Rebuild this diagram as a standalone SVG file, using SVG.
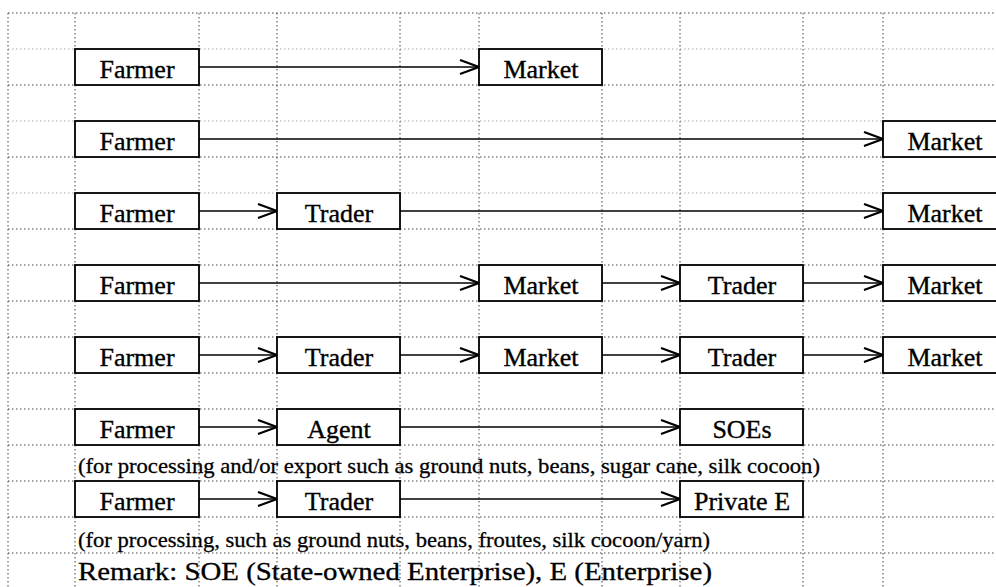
<svg xmlns="http://www.w3.org/2000/svg" width="996" height="587" viewBox="0 0 996 587">
<style>
.grid line{stroke:#444;stroke-width:1;stroke-dasharray:1.5 2.5}
.grid line.faint{stroke:#aaa}
.box rect{fill:#fff;stroke:#000;stroke-width:1.8}
.box text{font-family:"Liberation Serif","Times New Roman",serif;font-size:26px;fill:#000;stroke:#000;stroke-width:0.35;text-anchor:middle}
.conn line{stroke:#000;stroke-width:1.7}
.note{font-family:"Liberation Serif","Times New Roman",serif;fill:#000;stroke:#000;stroke-width:0.3}
</style>
<defs>
<marker id="arr" markerUnits="userSpaceOnUse" markerWidth="24" markerHeight="18" refX="20" refY="8" orient="auto">
<path d="M1,1 L20,8 L1,15" fill="none" stroke="#000" stroke-width="2.2"/>
</marker>
</defs>
<rect width="996" height="587" fill="#fff"/>
<g class="grid">
<line x1="8" y1="13" x2="996" y2="13"/>
<line class="faint" x1="8" y1="49" x2="996" y2="49"/>
<line x1="8" y1="85" x2="996" y2="85"/>
<line class="faint" x1="8" y1="121" x2="996" y2="121"/>
<line x1="8" y1="157" x2="996" y2="157"/>
<line class="faint" x1="8" y1="193" x2="996" y2="193"/>
<line x1="8" y1="229" x2="996" y2="229"/>
<line x1="8" y1="265" x2="996" y2="265"/>
<line x1="8" y1="301" x2="996" y2="301"/>
<line x1="8" y1="337" x2="996" y2="337"/>
<line x1="8" y1="373" x2="996" y2="373"/>
<line x1="8" y1="409" x2="996" y2="409"/>
<line x1="8" y1="445" x2="996" y2="445"/>
<line x1="8" y1="481" x2="996" y2="481"/>
<line x1="8" y1="517" x2="996" y2="517"/>
<line x1="8" y1="553" x2="996" y2="553"/>
<line x1="8" y1="13" x2="8" y2="587"/>
<line x1="75" y1="13" x2="75" y2="587"/>
<line x1="199" y1="13" x2="199" y2="587"/>
<line x1="277" y1="13" x2="277" y2="587"/>
<line x1="400" y1="13" x2="400" y2="587"/>
<line x1="479" y1="13" x2="479" y2="587"/>
<line x1="602" y1="13" x2="602" y2="587"/>
<line x1="680" y1="13" x2="680" y2="587"/>
<line x1="803" y1="13" x2="803" y2="587"/>
<line x1="883" y1="13" x2="883" y2="587"/>
</g>
<g class="conn">
<line x1="199" y1="67" x2="479" y2="67" marker-end="url(#arr)"/>
<line x1="199" y1="139" x2="883" y2="139" marker-end="url(#arr)"/>
<line x1="199" y1="211" x2="277" y2="211" marker-end="url(#arr)"/>
<line x1="400" y1="211" x2="883" y2="211" marker-end="url(#arr)"/>
<line x1="199" y1="283" x2="479" y2="283" marker-end="url(#arr)"/>
<line x1="602" y1="283" x2="680" y2="283" marker-end="url(#arr)"/>
<line x1="803" y1="283" x2="883" y2="283" marker-end="url(#arr)"/>
<line x1="199" y1="355" x2="277" y2="355" marker-end="url(#arr)"/>
<line x1="400" y1="355" x2="479" y2="355" marker-end="url(#arr)"/>
<line x1="602" y1="355" x2="680" y2="355" marker-end="url(#arr)"/>
<line x1="803" y1="355" x2="883" y2="355" marker-end="url(#arr)"/>
<line x1="199" y1="427" x2="277" y2="427" marker-end="url(#arr)"/>
<line x1="400" y1="427" x2="680" y2="427" marker-end="url(#arr)"/>
<line x1="199" y1="499" x2="277" y2="499" marker-end="url(#arr)"/>
<line x1="400" y1="499" x2="680" y2="499" marker-end="url(#arr)"/>
</g>
<g id="r1-farmer" class="box"><rect x="75" y="49" width="124" height="36"/><text x="137" y="78">Farmer</text></g>
<g id="r1-market" class="box"><rect x="479" y="49" width="123" height="36"/><text x="541" y="78">Market</text></g>
<g id="r2-farmer" class="box"><rect x="75" y="121" width="124" height="36"/><text x="137" y="150">Farmer</text></g>
<g id="r2-market" class="box"><rect x="883" y="121" width="124" height="36"/><text x="945" y="150">Market</text></g>
<g id="r3-farmer" class="box"><rect x="75" y="193" width="124" height="36"/><text x="137" y="222">Farmer</text></g>
<g id="r3-trader" class="box"><rect x="277" y="193" width="123" height="36"/><text x="339" y="222">Trader</text></g>
<g id="r3-market" class="box"><rect x="883" y="193" width="124" height="36"/><text x="945" y="222">Market</text></g>
<g id="r4-farmer" class="box"><rect x="75" y="265" width="124" height="36"/><text x="137" y="294">Farmer</text></g>
<g id="r4-market1" class="box"><rect x="479" y="265" width="123" height="36"/><text x="541" y="294">Market</text></g>
<g id="r4-trader" class="box"><rect x="680" y="265" width="123" height="36"/><text x="742" y="294">Trader</text></g>
<g id="r4-market2" class="box"><rect x="883" y="265" width="124" height="36"/><text x="945" y="294">Market</text></g>
<g id="r5-farmer" class="box"><rect x="75" y="337" width="124" height="36"/><text x="137" y="366">Farmer</text></g>
<g id="r5-trader1" class="box"><rect x="277" y="337" width="123" height="36"/><text x="339" y="366">Trader</text></g>
<g id="r5-market1" class="box"><rect x="479" y="337" width="123" height="36"/><text x="541" y="366">Market</text></g>
<g id="r5-trader2" class="box"><rect x="680" y="337" width="123" height="36"/><text x="742" y="366">Trader</text></g>
<g id="r5-market2" class="box"><rect x="883" y="337" width="124" height="36"/><text x="945" y="366">Market</text></g>
<g id="r6-farmer" class="box"><rect x="75" y="409" width="124" height="36"/><text x="137" y="438">Farmer</text></g>
<g id="r6-agent" class="box"><rect x="277" y="409" width="123" height="36"/><text x="339" y="438">Agent</text></g>
<g id="r6-soes" class="box"><rect x="680" y="409" width="123" height="36"/><text x="742" y="438">SOEs</text></g>
<g id="r7-farmer" class="box"><rect x="75" y="481" width="124" height="36"/><text x="137" y="510">Farmer</text></g>
<g id="r7-trader" class="box"><rect x="277" y="481" width="123" height="36"/><text x="339" y="510">Trader</text></g>
<g id="r7-private" class="box"><rect x="680" y="481" width="123" height="36"/><text x="742" y="510">Private E</text></g>
<text class="note" x="78" y="473" font-size="22" textLength="742" lengthAdjust="spacingAndGlyphs">(for processing and/or export such as ground nuts, beans, sugar cane, silk cocoon)</text>
<text class="note" x="78" y="547" font-size="22" textLength="632" lengthAdjust="spacingAndGlyphs">(for processing, such as ground nuts, beans, froutes, silk cocoon/yarn)</text>
<text class="note" x="78" y="580" font-size="25" textLength="634" lengthAdjust="spacingAndGlyphs">Remark: SOE (State-owned Enterprise), E (Enterprise)</text>
</svg>
